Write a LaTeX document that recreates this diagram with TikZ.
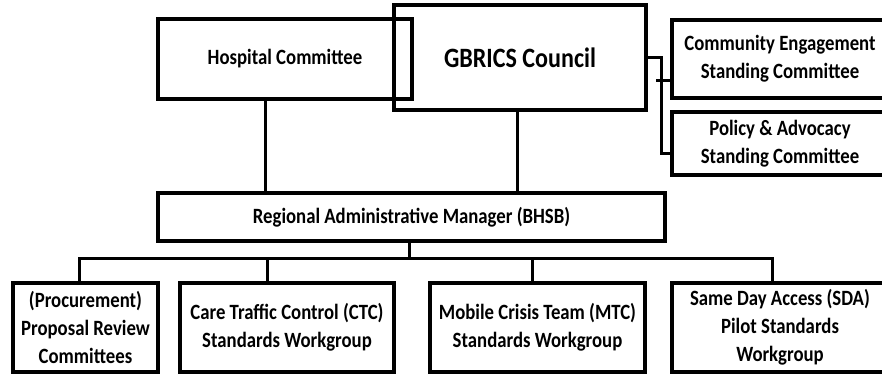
\documentclass[tikz,border=0pt]{standalone}
\usepackage{fontspec}
\setmainfont{Carlito}
% Calibri-like, a bit narrower so the letters stand taller
\newfontfamily\unitfont[FakeStretch=0.86]{Carlito}
\usetikzlibrary{positioning}

\begin{document}
\begin{tikzpicture}[
        x=1pt, y=-1pt,
        unit/.style={draw, rectangle, line width=3.3pt, align=center, inner sep=1pt,
            font=\unitfont\bfseries\fontsize{21.8}{28}\selectfont},
        link/.style={line width=3pt}
    ]
        \useasboundingbox (0,0) rectangle (882,373);
        \clip (0,0) rectangle (882,373);

        % top row
        \node[unit, minimum width=254, minimum height=80] (hosp) at (285,59) {Hospital Committee};
        \node[unit, minimum width=252, minimum height=105, font=\unitfont\bfseries\fontsize{28}{32}\selectfont] (council) at (520,57.5) {GBRICS Council};
        \node[unit, minimum width=216, minimum height=78] (engage) at (780,59) {Community Engagement\\Standing Committee};
        \node[unit, minimum width=216, minimum height=63] (policy) at (780,143.5) {Policy \& Advocacy\\Standing Committee};

        % manager
        \node[unit, minimum width=507, minimum height=48] (ram) at (411.5,217) {Regional Administrative Manager (BHSB)};

        % workgroups
        \node[unit, minimum width=145, minimum height=89] (proc) at (85.5,327.5) {(Procurement)\\Proposal Review\\Committees};
        \node[unit, minimum width=214, minimum height=89] (ctc) at (287,327.5) {Care Traffic Control (CTC)\\Standards Workgroup};
        \node[unit, minimum width=215, minimum height=89] (mtc) at (537.5,327.5) {Mobile Crisis Team (MTC)\\Standards Workgroup};
        \node[unit, minimum width=216, minimum height=89] (sda) at (780,327.5) {Same Day Access (SDA)\\Pilot Standards\\Workgroup};

        \coordinate (bus) at (409,258);

        % standing committees bracket
        \draw[link] (council.east) -- ++(14,0) |- ([yshift=-9.5]policy.west);
        \draw[link] ([yshift=-21]engage.west) -- ++(-14,0);

        % into the manager
        \draw[link] ([xshift=-20]hosp.south) -- ([xshift=-20]hosp.south |- ram.north);
        \draw[link] ([xshift=-3]council.south) -- ([xshift=-3]council.south |- ram.north);

        % down to the workgroups
        \draw[link] ([xshift=-2.5]ram.south) -- (bus);
        \draw[link] ([xshift=-6.5]proc.north) |- (bus) -| ([xshift=-8]sda.north);
        \draw[link] ([xshift=-20]ctc.north) -- ([xshift=-20]ctc.north |- bus);
        \draw[link] ([xshift=-5.5]mtc.north) -- ([xshift=-5.5]mtc.north |- bus);
    \end{tikzpicture}
\end{document}
